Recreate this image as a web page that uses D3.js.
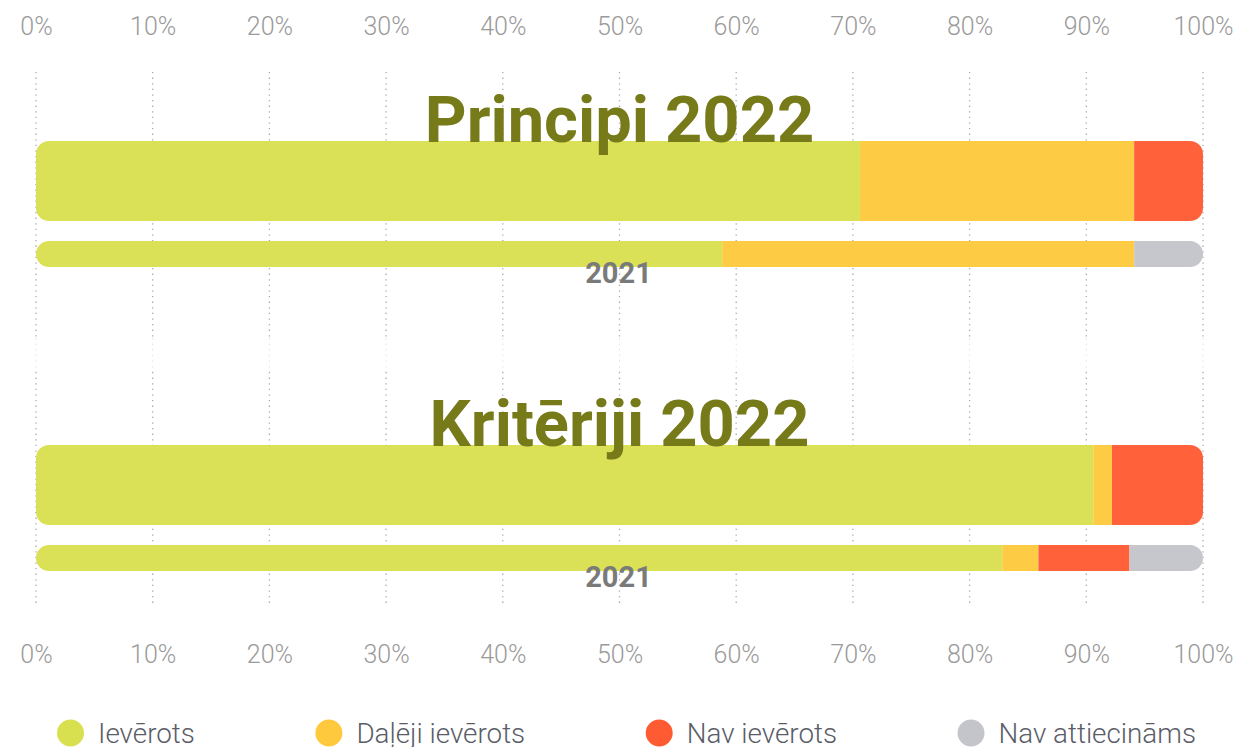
<!DOCTYPE html>
<html>
<head>
<meta charset="utf-8">
<script src="https://cdn.jsdelivr.net/npm/d3@7"></script>
<style>
  html, body { margin: 0; padding: 0; background: #fff; }
  svg { display: block; font-family: Roboto, "Noto Sans", sans-serif; }
</style>
</head>
<body>
<svg id="chart" width="1238" height="747"></svg>
<script>
// Share of items by compliance status, percent of total
const groups = ["Principi", "Kritēriji"];
const currentYear = "2022";
const previousYear = "2021";
const statuses = ["Ievērots", "Daļēji ievērots", "Nav ievērots", "Nav attiecināms"];
const statusColors = ["#d9e04f", "#fec93d", "#ff5b33", "#c4c5ca"];

const principi2022 = [70.6, 23.5, 5.9, 0];
const principi2021 = [58.8, 35.3, 0, 5.9];
const kriteriji2022 = [90.6, 1.6, 7.8, 0];
const kriteriji2021 = [82.8, 3.1, 7.8, 6.3];

const tickValues = [0, 10, 20, 30, 40, 50, 60, 70, 80, 90, 100];
const tickLabels = ["0%", "10%", "20%", "30%", "40%", "50%", "60%", "70%", "80%", "90%", "100%"];

const panels = [
  { name: groups[0], current: principi2022, previous: principi2021 },
  { name: groups[1], current: kriteriji2022, previous: kriteriji2021 }
];

const svg = d3.select("#chart");
const x = d3.scaleLinear().domain([0, 100]).range([36, 1203]);

// vertical layout of the two panels
const panelStep = 304;
const gridTop = 72, gridBottomTop = 338, gridTopBottom = 372, gridBottomBottom = 605;
const bigH = 80, smallH = 26;
const bigOffset = 69, smallOffset = 169;

// gridlines
const grid = svg.append("g").attr("class", "grid");
function gridSegment(cls, y1, y2, color, width) {
  grid.selectAll("line." + cls).data(tickValues).join("line")
    .attr("class", cls)
    .attr("x1", d => x(d)).attr("x2", d => x(d))
    .attr("y1", y1).attr("y2", y2)
    .attr("stroke", color).attr("stroke-width", width)
    .attr("stroke-dasharray", "1.3,4.3");
}
gridSegment("upper", gridTop, gridBottomTop, "#a9aab2", 1.3);
gridSegment("between", gridBottomTop, gridTopBottom, "#dcdde2", 1);
gridSegment("lower", gridTopBottom, gridBottomBottom, "#a9aab2", 1.3);

// axes
function styleAxis(g) {
  g.select(".domain").remove();
  g.selectAll(".tick line").remove();
  g.selectAll(".tick text")
    .attr("font-family", "Roboto, sans-serif")
    .attr("font-weight", 300)
    .attr("font-size", 25)
    .attr("fill", "#9a9a9a")
    .attr("dy", null);
}
svg.append("g").attr("transform", "translate(0,35)")
  .call(d3.axisTop(x).tickValues(tickValues).tickFormat((d, i) => tickLabels[i]).tickSize(0).tickPadding(0))
  .call(styleAxis);
svg.append("g").attr("transform", "translate(0,663)")
  .call(d3.axisBottom(x).tickValues(tickValues).tickFormat((d, i) => tickLabels[i]).tickSize(0).tickPadding(0))
  .call(styleAxis)
  .call(g => g.selectAll(".tick text").attr("y", 0));

function stack(values) {
  let acc = 0;
  return values.map((v, i) => {
    const s = { start: acc, end: acc + v, color: statusColors[i], status: statuses[i] };
    acc += v;
    return s;
  }).filter(d => d.end > d.start);
}

const defs = svg.append("defs");

function drawBar(g, values, y, h, r, id) {
  defs.append("clipPath").attr("id", id)
    .append("rect")
    .attr("x", x(0)).attr("y", y)
    .attr("width", x(100) - x(0)).attr("height", h)
    .attr("rx", r).attr("ry", r);
  g.append("g").attr("clip-path", `url(#${id})`)
    .selectAll("rect").data(stack(values)).join("rect")
    .attr("x", d => x(d.start))
    .attr("y", y)
    .attr("width", d => x(d.end) - x(d.start))
    .attr("height", h)
    .attr("fill", d => d.color)
    .attr("fill-opacity", 0.96);
}

panels.forEach((p, i) => {
  const top = gridTop + i * panelStep;
  const g = svg.append("g").attr("class", "panel");
  const bigY = top + bigOffset;
  const smallY = top + smallOffset;
  drawBar(g, p.current, bigY, bigH, 13, "clip-big-" + i);
  drawBar(g, p.previous, smallY, smallH, 13, "clip-small-" + i);

  g.append("text")
    .attr("x", x(50)).attr("y", bigY + 1)
    .attr("text-anchor", "middle")
    .attr("font-family", "Roboto, sans-serif")
    .attr("font-weight", 700)
    .attr("font-size", 65)
    .attr("fill", "#777a19")
    .text(`${p.name} ${currentYear}`);

  g.append("text")
    .attr("x", x(50) - 1).attr("y", smallY + 42)
    .attr("text-anchor", "middle")
    .attr("font-family", "Roboto, sans-serif")
    .attr("font-weight", 700)
    .attr("font-size", 29)
    .attr("fill", "#7a7a7a")
    .text(previousYear);
});

// legend, items spread across the width
const legend = svg.append("g").attr("class", "legend");
const legendLeft = 57, legendRight = 1196, legendY = 733, dotR = 13.5, dotGap = 15;
const items = legend.selectAll("g").data(statuses).join("g");
items.append("circle").attr("r", dotR).attr("cy", legendY).attr("cx", dotR)
  .attr("fill", (d, i) => statusColors[i]);
items.append("text")
  .attr("x", dotR * 2 + dotGap - 1).attr("y", legendY + 10)
  .attr("font-family", "Roboto, sans-serif")
  .attr("font-weight", 300)
  .attr("font-size", 27.8)
  .attr("fill", "#5a5d68")
  .text(d => d);
const widths = [];
items.each(function () { widths.push(this.getBBox().width); });
const totalW = d3.sum(widths);
const gap = (legendRight - legendLeft - totalW) / (statuses.length - 1);
let cx = legendLeft;
items.each(function (d, i) {
  d3.select(this).attr("transform", `translate(${cx},0)`);
  cx += widths[i] + gap;
});
</script>
</body>
</html>
